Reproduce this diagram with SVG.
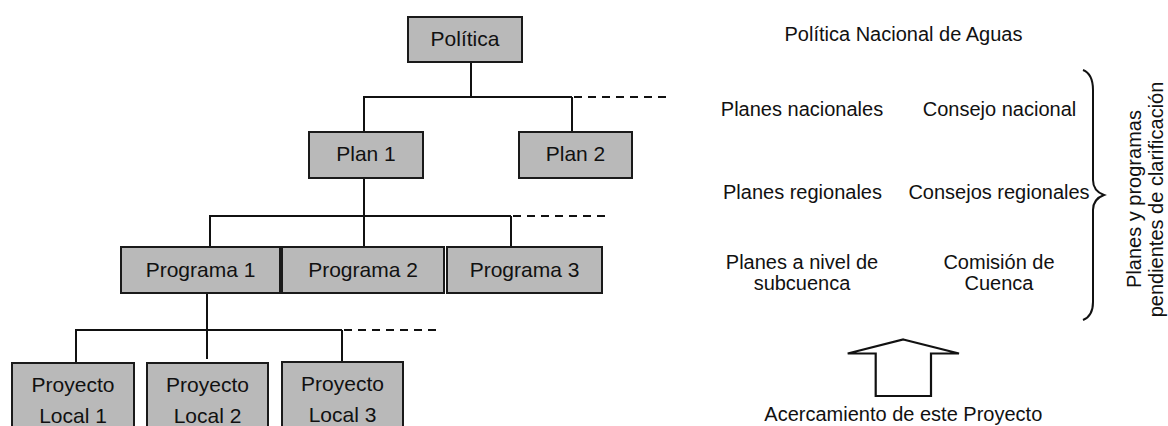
<svg xmlns="http://www.w3.org/2000/svg" width="1168" height="426" viewBox="0 0 1168 426">
  <style>
    .box { fill: #b9b9b9; stroke: #1a1a1a; stroke-width: 2; }
    .lbl { font-family: "Liberation Sans", Arial, sans-serif; font-size: 21px; fill: #111; text-anchor: middle; }
    .txt { font-family: "Liberation Sans", Arial, sans-serif; font-size: 20px; fill: #111; text-anchor: middle; }
    .wire { stroke: #111; stroke-width: 2; fill: none; }
    .dash { stroke: #111; stroke-width: 2; fill: none; stroke-dasharray: 8 6; }
    .outline { stroke: #111; stroke-width: 2.2; fill: none; stroke-linejoin: miter; }
  </style>

  <rect width="1168" height="426" fill="#ffffff"/>

  <!-- hierarchy connectors -->
  <g id="connectors">
    <!-- Política to plans -->
    <line class="wire" x1="471" y1="62" x2="471" y2="97"/>
    <line class="wire" x1="363" y1="97" x2="572" y2="97"/>
    <line class="wire" x1="364" y1="97" x2="364" y2="132"/>
    <line class="wire" x1="572" y1="97" x2="572" y2="132"/>
    <line class="dash" x1="574" y1="97" x2="672" y2="97"/>
    <!-- Plan 1 to programs -->
    <line class="wire" x1="364" y1="178" x2="364" y2="247"/>
    <line class="wire" x1="209" y1="216" x2="511" y2="216"/>
    <line class="wire" x1="210" y1="216" x2="210" y2="247"/>
    <line class="wire" x1="511" y1="216" x2="511" y2="247"/>
    <line class="dash" x1="513" y1="216" x2="610" y2="216"/>
    <!-- Programa 1 to local projects -->
    <line class="wire" x1="207" y1="293" x2="207" y2="359"/>
    <line class="wire" x1="75" y1="330" x2="342" y2="330"/>
    <line class="wire" x1="76" y1="330" x2="76" y2="363"/>
    <line class="wire" x1="342" y1="330" x2="342" y2="362"/>
    <line class="dash" x1="344" y1="330" x2="440" y2="330"/>
  </g>

  <g id="politica">
    <rect class="box" x="408" y="17" width="114" height="45"/>
    <text class="lbl" x="465" y="46">Política</text>
  </g>

  <g id="plan1">
    <rect class="box" x="309" y="132" width="114" height="46"/>
    <text class="lbl" x="366" y="161">Plan 1</text>
  </g>
  <g id="plan2">
    <rect class="box" x="519" y="132" width="113" height="46"/>
    <text class="lbl" x="575.5" y="161">Plan 2</text>
  </g>

  <g id="programa1">
    <rect class="box" x="121" y="247" width="159" height="46"/>
    <text class="lbl" x="200.5" y="277">Programa 1</text>
  </g>
  <g id="programa2">
    <rect class="box" x="282" y="247" width="162" height="46"/>
    <text class="lbl" x="363" y="277">Programa 2</text>
  </g>
  <g id="programa3">
    <rect class="box" x="447" y="247" width="155" height="46"/>
    <text class="lbl" x="524.5" y="277">Programa 3</text>
  </g>

  <g id="local1">
    <rect class="box" x="12" y="363" width="122" height="70"/>
    <text class="lbl" x="73" y="392">Proyecto</text>
    <text class="lbl" x="73" y="423">Local 1</text>
  </g>
  <g id="local2">
    <rect class="box" x="147" y="363" width="121" height="70"/>
    <text class="lbl" x="207.5" y="392">Proyecto</text>
    <text class="lbl" x="207.5" y="423">Local 2</text>
  </g>
  <g id="local3">
    <rect class="box" x="282" y="362" width="121" height="70"/>
    <text class="lbl" x="342.5" y="391">Proyecto</text>
    <text class="lbl" x="342.5" y="422">Local 3</text>
  </g>

  <!-- national-level counterparts -->
  <g id="national">
    <text class="txt" x="903.5" y="41">Política Nacional de Aguas</text>
    <text class="txt" x="802" y="116">Planes nacionales</text>
    <text class="txt" x="999.5" y="116">Consejo nacional</text>
    <text class="txt" x="802.5" y="199">Planes regionales</text>
    <text class="txt" x="999" y="199">Consejos regionales</text>
    <text class="txt" x="802" y="269">Planes a nivel de</text>
    <text class="txt" x="802" y="289.5">subcuenca</text>
    <text class="txt" x="999" y="269">Comisión de</text>
    <text class="txt" x="999" y="289.5">Cuenca</text>
  </g>

  <g id="brace">
    <path class="wire" stroke-width="1.8" d="M1083 70 Q1093 74 1093 90 L1093 180 Q1093 191 1104 195 Q1093 199 1093 210 L1093 302 Q1093 316 1083 320"/>
    <text class="txt" transform="translate(1141 199) rotate(-90)">Planes y programas</text>
    <text class="txt" transform="translate(1163 199.5) rotate(-90)">pendientes de clarificación</text>
  </g>

  <g id="approach">
    <path class="outline" d="M903.3 339.5 L959 353.5 L931 353.5 L931 396 L875.7 396 L875.7 353.5 L847.7 353.5 Z"/>
    <text class="txt" x="903.3" y="421">Acercamiento de este Proyecto</text>
  </g>
</svg>
